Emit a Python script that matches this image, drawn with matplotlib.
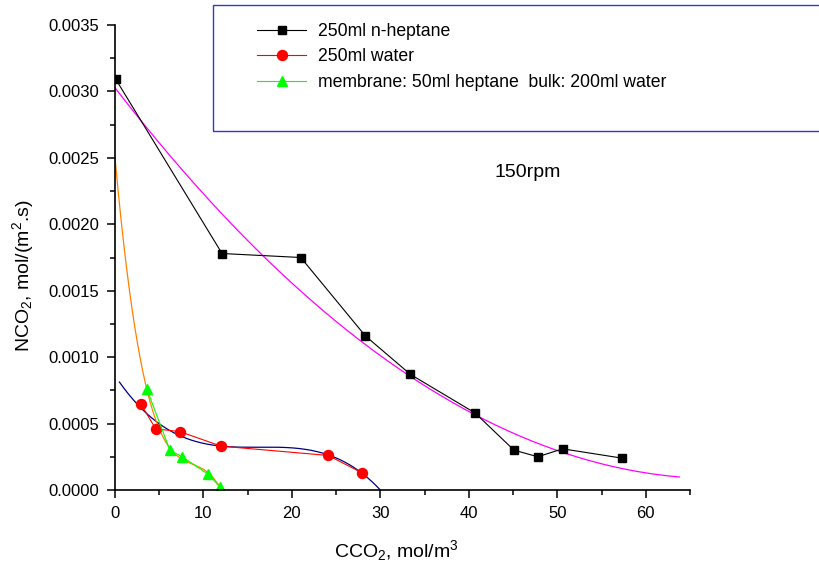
import numpy as np
import matplotlib.pyplot as plt
from matplotlib.patches import Rectangle

plt.rcParams['font.family'] = ['Liberation Sans', 'DejaVu Sans']
plt.rcParams['mathtext.fontset'] = 'custom'
plt.rcParams['mathtext.rm'] = 'Liberation Sans'
plt.rcParams['mathtext.it'] = 'Liberation Sans:italic'

# measured flux vs CO2 concentration
hep_x = [0.1, 12.1, 21.0, 28.3, 33.4, 40.7, 45.1, 47.8, 50.6, 57.3]
hep_y = [0.00309, 0.00178, 0.00175, 0.00116, 0.00087, 0.00058,
         0.00030, 0.00025, 0.00031, 0.00024]

water_x = [2.9, 4.6, 7.3, 12.0, 24.1, 27.9]
water_y = [0.00065, 0.00046, 0.00044, 0.00033, 0.00026, 0.00013]

memb_x = [3.6, 6.2, 7.6, 10.5, 11.9]
memb_y = [0.00076, 0.00030, 0.00025, 0.00012, 0.00002]

labels = ['250ml n-heptane', '250ml water',
          'membrane: 50ml heptane  bulk: 200ml water']

fig = plt.figure(figsize=(8.2, 5.69), dpi=100)
ax = fig.add_axes([115 / 820, 1 - 490 / 569, 575 / 820, 465 / 569])

# polynomial fits of each series
xf = np.linspace(0, 63.8, 300)
ax.plot(xf, np.polyval(np.polyfit(hep_x, hep_y, 2), xf), color='#ff00ff', lw=0.9)
xf = np.linspace(0.5, 31, 300)
ax.plot(xf, np.polyval(np.polyfit(water_x, water_y, 3), xf), color='#000080', lw=0.9)
xf = np.linspace(0, 12, 300)
ax.plot(xf, np.polyval(np.polyfit(memb_x, memb_y, 3), xf), color='#ff8000', lw=0.9)

# data
h1, = ax.plot(hep_x, hep_y, color='black', lw=0.8, marker='s', ms=6.3,
              mfc='black', mec='black', label=labels[0])
h2, = ax.plot(water_x, water_y, color='#ff0000', lw=0.8, marker='o', ms=7.2,
              mfc='#ff0000', mec='#ff0000', label=labels[1])
h3, = ax.plot(memb_x, memb_y, color='#00ff00', lw=0.8, marker='^', ms=7.5,
              mfc='#00ff00', mec='#00ff00', label=labels[2])

ax.set_xlim(0, 65)
ax.set_ylim(0, 0.0035)
ax.set_xticks(np.arange(0, 61, 10))
ax.set_xticks(np.arange(0, 66, 5), minor=True)
ax.set_yticks(np.arange(0, 0.00351, 0.0005))
ax.set_yticks(np.arange(0, 0.00351, 0.00025), minor=True)
ax.yaxis.set_major_formatter(plt.FormatStrFormatter('%.4f'))
for s in ['top', 'right']:
    ax.spines[s].set_visible(False)
for s in ['left', 'bottom']:
    ax.spines[s].set_linewidth(1.2)
ax.tick_params(which='major', direction='out', length=6, width=1.1,
               labelsize=12, pad=5.2)
ax.tick_params(which='minor', direction='out', length=3.6, width=1.1)

ax.set_xlabel('CCO$_2$, mol/m$^3$', fontsize=14)
ax.set_ylabel('NCO$_2$, mol/(m$^2$.s)', fontsize=14)
ax.xaxis.set_label_coords(0.49, -0.103)
ax.yaxis.set_label_coords(-0.138, 0.46)

ax.text(46.65, 0.00239, '150rpm', fontsize=14, ha='center', va='center')

# legend box spanning to the right edge
fig.patches.append(Rectangle((213 / 820, 1 - 131 / 569), 0.76, 126 / 569,
                             transform=fig.transFigure, fill=False,
                             edgecolor='#3535d5', lw=1.0))
fig.legend(handles=[h1, h2, h3], loc='upper left', frameon=False,
           bbox_to_anchor=(257 / 820, 1 - 23 / 569), borderpad=0,
           borderaxespad=0, fontsize=12.7, handlelength=2.8,
           handletextpad=0.68, labelspacing=0.48)

fig.savefig('out.png', dpi=100)
